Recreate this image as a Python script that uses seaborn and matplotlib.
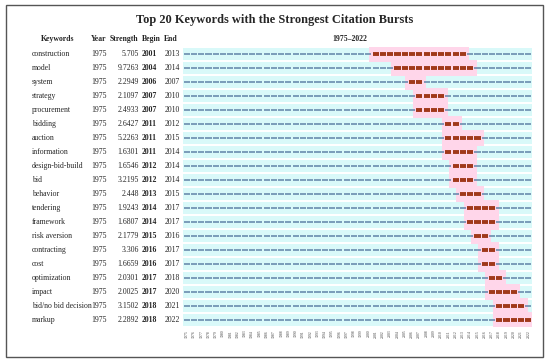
import matplotlib

matplotlib.use("Agg")
import matplotlib.pyplot as plt
import matplotlib.transforms as mtransforms
from matplotlib.patches import Rectangle
import seaborn as sns

keywords = ["construction", "model", "system", "strategy", "procurement", "bidding",
            "auction", "information", "design-bid-build", "bid", "behavior", "tendering",
            "framework", "risk aversion", "contracting", "cost", "optimization", "impact",
            "bid/no bid decision", "markup"]
first_year = [1975] * 20
strength = ["5.705", "9.7263", "2.2949", "2.1097", "2.4933", "2.6427", "5.2263", "1.6301",
            "1.6546", "3.2195", "2.448", "1.9243", "1.6807", "2.1779", "3.306", "1.6659",
            "2.0301", "2.0025", "3.1502", "2.2892"]
begin = [2001, 2004, 2006, 2007, 2007, 2011, 2011, 2011, 2012, 2012, 2013, 2014, 2014,
         2015, 2016, 2016, 2017, 2017, 2018, 2018]
end = [2013, 2014, 2007, 2010, 2010, 2012, 2015, 2014, 2014, 2014, 2015, 2017, 2017,
       2016, 2017, 2017, 2018, 2020, 2021, 2022]
year_range = list(range(1975, 2023))

sns.set_theme(style="white")
plt.rcParams["font.family"] = ["Liberation Serif", "DejaVu Serif"]

W, H = 550, 364
fig = plt.figure(figsize=(5.5, 3.64), dpi=100)
fig.patch.set_facecolor("white")

# frame around the whole picture
fig.patches.append(Rectangle((6 / W, 1 - 357 / H), 537 / W, 352 / H, transform=fig.transFigure,
                             fill=False, edgecolor="#555555", linewidth=1.0))

n = len(keywords)
ax = fig.add_axes([183 / W, 1 - 327 / H, 349 / W, 280 / H])
ax.set_xlim(year_range[0], year_range[-1] + 1)
ax.set_ylim(n - 0.5, -0.5)
for s in ax.spines.values():
    s.set_visible(False)
ax.set_yticks([])
ax.set_xticks([y + 0.5 for y in year_range])
ax.set_xticklabels([str(y) for y in year_range], rotation=90, fontsize=2.8, color="#444444")
ax.tick_params(axis="x", length=0, pad=2)

for i in range(n):
    ax.add_patch(Rectangle((year_range[0] - 0.3, i - 0.4), len(year_range) + 0.6, 0.8,
                           facecolor="#D9F9F9", edgecolor="none", zorder=1))
    ax.add_patch(Rectangle((begin[i] - 0.4, i - 0.55), end[i] - begin[i] + 1.8, 1.1,
                           facecolor="#FFD6EA", edgecolor="none", zorder=2))
    for y in year_range:
        burst = begin[i] <= y <= end[i]
        ax.hlines(i, y + 0.08, y + 0.92, color="#A0381A" if burst else "#6A8CAE",
                  linewidth=2.8 if burst else 1.2, zorder=3)

tr = mtransforms.blended_transform_factory(fig.transFigure, ax.transData)
fs = 5.6
for i in range(n):
    ax.text(32 / W, i, keywords[i], transform=tr, fontsize=fs, va="center", ha="left")
    ax.text(91 / W, i, str(first_year[i]), transform=tr, fontsize=fs, va="center", ha="left")
    ax.text(139 / W, i, strength[i], transform=tr, fontsize=fs, va="center", ha="right")
    ax.text(142 / W, i, str(begin[i]), transform=tr, fontsize=fs, va="center", ha="left",
            fontweight="bold")
    ax.text(165 / W, i, str(end[i]), transform=tr, fontsize=fs, va="center", ha="left")

hy = -1.07
ax.text(58 / W, hy, "Keywords", transform=tr, fontsize=fs, va="center", ha="center", fontweight="bold")
ax.text(91 / W, hy, "Year", transform=tr, fontsize=fs, va="center", ha="left", fontweight="bold")
ax.text(110 / W, hy, "Strength", transform=tr, fontsize=fs, va="center", ha="left", fontweight="bold")
ax.text(142 / W, hy, "Begin", transform=tr, fontsize=fs, va="center", ha="left", fontweight="bold")
ax.text(164 / W, hy, "End", transform=tr, fontsize=fs, va="center", ha="left", fontweight="bold")
ax.text(350 / W, hy, f"{year_range[0]}–{year_range[-1]}", transform=tr, fontsize=fs,
        va="center", ha="center", fontweight="bold")

fig.text(275 / W, 1 - 20 / H, "Top 20 Keywords with the Strongest Citation Bursts",
         fontsize=8.9, fontweight="bold", ha="center", va="center")

fig.savefig("out.png", dpi=100)
